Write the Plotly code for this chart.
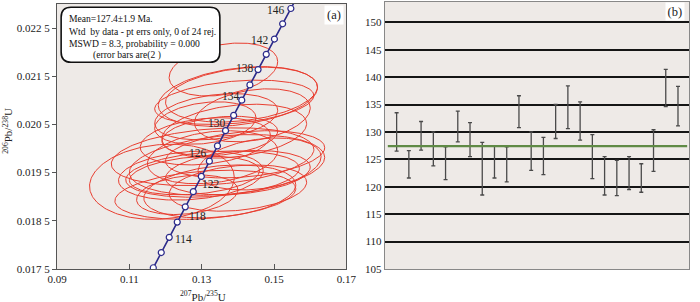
import numpy as np
import plotly.graph_objects as go

# ---------------- data ----------------
# (b) weighted-mean panel: 206Pb/238U ages (Ma) and 2-sigma errors
spot_no = list(range(1, 25))
age_ma = [130.0, 124.1, 129.3, 126.9, 124.3, 131.0, 128.6, 123.3, 124.5, 124.1, 133.7, 126.5,
          125.6, 131.9, 134.5, 132.0, 125.5, 122.0, 121.6, 122.5, 121.6, 126.6, 138.0, 134.7]
age_err = [3.5, 2.5, 2.6, 3.1, 3.0, 2.8, 3.1, 4.8, 2.9, 3.2, 2.9, 3.5,
           3.4, 3.1, 3.9, 3.5, 4.0, 3.5, 3.2, 3.0, 2.6, 3.8, 3.4, 3.6]
mean_age = 127.4

# (a) concordia panel: isotope ratios of the 24 spots (2-sigma) and error correlation
pb206_u238 = [0.02036, 0.01944, 0.02026, 0.01988, 0.01947, 0.02053, 0.02015, 0.01931,
              0.01950, 0.01944, 0.02096, 0.01982, 0.01968, 0.02066, 0.02108, 0.02069,
              0.01966, 0.01911, 0.01904, 0.01918, 0.01904, 0.01983, 0.02164, 0.02112]
err_206 = [0.00056, 0.00040, 0.00041, 0.00049, 0.00048, 0.00044, 0.00049, 0.00078,
           0.00046, 0.00051, 0.00046, 0.00055, 0.00054, 0.00048, 0.00062, 0.00055,
           0.00063, 0.00055, 0.00051, 0.00048, 0.00041, 0.00060, 0.00055, 0.00057]
pb207_u235 = [0.139, 0.128, 0.135, 0.142, 0.133, 0.131, 0.131, 0.119, 0.140, 0.127, 0.139, 0.133,
              0.146, 0.134, 0.140, 0.144, 0.137, 0.135, 0.131, 0.140, 0.126, 0.133, 0.136, 0.141]
err_207 = [0.020, 0.018, 0.016, 0.022, 0.024, 0.014, 0.018, 0.020, 0.020, 0.020, 0.022, 0.018,
           0.017, 0.017, 0.022, 0.016, 0.027, 0.021, 0.025, 0.019, 0.014, 0.028, 0.015, 0.021]
err_corr = [0.28, 0.25, 0.25, 0.28, 0.25, 0.25, 0.25, 0.12, 0.25, 0.2, 0.3, 0.25,
            0.28, 0.28, 0.3, 0.28, 0.25, 0.25, 0.25, 0.25, 0.25, 0.25, 0.3, 0.28]

# concordia curve (age ticks every 2 Ma)
conc_age = [112, 114, 116, 118, 120, 122, 124, 126, 128, 130, 132, 134, 136, 138, 140, 142, 144, 146, 148]
conc_207 = [0.116616, 0.118818, 0.121024, 0.123234, 0.125449, 0.127668, 0.129891, 0.132118,
            0.134351, 0.136588, 0.138828, 0.141074, 0.143324, 0.145578, 0.147836, 0.150100,
            0.152366, 0.154639, 0.156916]
conc_206 = [0.0175258, 0.0178416, 0.0181574, 0.0184733, 0.0187894, 0.0191055, 0.0194217,
            0.0197380, 0.0200544, 0.0203710, 0.0206876, 0.0210043, 0.0213211, 0.0216380,
            0.0219550, 0.0222722, 0.0225894, 0.0229067, 0.0232241]
label_ages = [114, 118, 122, 126, 130, 134, 138, 142, 146]

x_ticks_a = [0.09, 0.11, 0.13, 0.15, 0.17]
x_ticktext_a = ["0.09", "0.11", "0.13", "0.15", "0.17"]
y_ticks_a = [0.0175, 0.0185, 0.0195, 0.0205, 0.0215, 0.0225]
y_ticktext_a = ["0.017 5", "0.018 5", "0.019 5", "0.020 5", "0.021 5", "0.022 5"]
y_ticks_b = [105, 110, 115, 120, 125, 130, 135, 140, 145, 150]

info_lines = ["Mean=127.4\u00b11.9 Ma.",
              "Wtd  by data - pt errs only, 0 of 24 rej.",
              "MSWD = 8.3, probability = 0.000",
              "(error bars are(2 )"]

# ---------------- figure ----------------
SERIF = "Liberation Serif, Times New Roman, serif"
RED = "rgb(232,62,48)"
NAVY = "#2b2a8a"

W, H = 700, 302
ML, MR, MT, MB = 57, 1, 2, 33
PW, PH = W - ML - MR, H - MT - MB


def px_x(p):
    return (p - ML) / PW


def px_y(p):
    return (H - MB - p) / PH


fig = go.Figure()

# error ellipses
t = np.linspace(0, 2 * np.pi, 181)
for cx, sx, cy, sy, r in zip(pb207_u235, err_207, pb206_u238, err_206, err_corr):
    ex = cx + sx * np.cos(t)
    ey = cy + sy * (r * np.cos(t) + np.sqrt(1 - r * r) * np.sin(t))
    fig.add_trace(go.Scatter(x=ex, y=ey, mode="lines", line=dict(color=RED, width=1),
                             hoverinfo="skip", xaxis="x", yaxis="y"))

# concordia
fig.add_trace(go.Scatter(x=conc_207, y=conc_206, mode="lines+markers",
                         line=dict(color=NAVY, width=1.6),
                         marker=dict(symbol="circle", size=6, color="white",
                                     line=dict(color=NAVY, width=1.2)),
                         xaxis="x", yaxis="y"))

# weighted-mean bars
fig.add_trace(go.Scatter(x=spot_no, y=age_ma, mode="markers",
                         marker=dict(size=1, color="rgba(0,0,0,0)"),
                         error_y=dict(type="data", array=age_err, visible=True,
                                      color="#4a4a4a", thickness=1.3, width=2),
                         xaxis="x2", yaxis="y2"))
fig.add_trace(go.Scatter(x=[0.28, 24.75], y=[mean_age, mean_age], mode="lines",
                         line=dict(color="#5f8a45", width=2.2), xaxis="x2", yaxis="y2"))

axfont = dict(family=SERIF, size=11, color="#222")
fig.update_layout(
    width=W, height=H, margin=dict(l=ML, r=MR, t=MT, b=MB),
    paper_bgcolor="white", plot_bgcolor="#EEEAE7", showlegend=False,
    xaxis=dict(domain=[0, px_x(351)], range=[0.09, 0.17], tickvals=x_ticks_a, ticktext=x_ticktext_a,
               ticks="inside", ticklen=5, tickcolor="#555", tickwidth=1,
               showline=True, linecolor="#555", linewidth=1.3, mirror=True,
               showgrid=False, zeroline=False, tickfont=axfont, anchor="y"),
    yaxis=dict(domain=[0, px_y(4)], range=[0.0175, 0.0230], tickvals=y_ticks_a, ticktext=y_ticktext_a,
               ticks="outside", ticklen=4, tickcolor="#555", tickwidth=1,
               showline=True, linecolor="#555", linewidth=1.3, mirror=True,
               showgrid=False, zeroline=False, tickfont=axfont, anchor="x"),
    xaxis2=dict(domain=[px_x(390), 1], range=[0.035, 24.9], showticklabels=False, ticks="",
                showline=True, linecolor="#888", linewidth=1, mirror=True,
                showgrid=False, zeroline=False, anchor="y2"),
    yaxis2=dict(domain=[0, px_y(2)], range=[105, 153.7], tickvals=y_ticks_b, ticks="",
                showline=True, linecolor="#888", linewidth=1, mirror=True,
                showgrid=True, gridcolor="#151515", gridwidth=1.6, zeroline=False,
                tickfont=axfont, anchor="x2"),
)

# concordia age labels (placed relative to their marker)
label_shift = {114: (22, 14), 118: (20, 6), 122: (18, 8), 126: (-11, 8), 130: (-9, 8),
               134: (-11, 4), 138: (-13, 2), 142: (-14, -1), 146: (-15, -1)}
for a in label_ages:
    i = conc_age.index(a)
    dx, dy = label_shift[a]
    fig.add_annotation(x=conc_207[i], y=conc_206[i], xref="x", yref="y", text=str(a),
                       showarrow=False, xshift=dx, yshift=dy,
                       font=dict(family=SERIF, size=11.5, color="#222"))

# info box (rounded rectangle)
x0, x1 = 0.09 + (61.7 - 57.5) / 3670, 0.09 + (222.7 - 57.5) / 3670
y0, y1 = 0.0230 - (7.3 - 4) / 48200, 0.0230 - (62.3 - 4) / 48200
rx, ry = 10 / 3670, 10 / 48200
path = (f"M {x0+rx},{y0} L {x1-rx},{y0} Q {x1},{y0} {x1},{y0-ry} L {x1},{y1+ry} "
        f"Q {x1},{y1} {x1-rx},{y1} L {x0+rx},{y1} Q {x0},{y1} {x0},{y1+ry} "
        f"L {x0},{y0-ry} Q {x0},{y0} {x0+rx},{y0} Z")
fig.add_shape(type="path", path=path, xref="x", yref="y",
              line=dict(color="#111", width=1.6), fillcolor="white", layer="above")
line_pos = [(67, 18.5), (67, 31), (67, 43), (92, 54.5)]
for txt, (lx, ly) in zip(info_lines, line_pos):
    fig.add_annotation(x=px_x(lx), y=px_y(ly), xref="paper", yref="paper", text=txt,
                       showarrow=False, xanchor="left", yanchor="middle",
                       font=dict(family=SERIF, size=9.6, color="#111"))

# panel tags
fig.add_annotation(x=1, y=1, xref="x domain", yref="y domain", text="(a)", showarrow=False,
                   xanchor="right", yanchor="top", xshift=-2, yshift=-1, bgcolor="white",
                   borderpad=2, font=dict(family=SERIF, size=12.5, color="#222"))
fig.add_annotation(x=1, y=1, xref="x2 domain", yref="y2 domain", text="(b)", showarrow=False,
                   xanchor="right", yanchor="top", xshift=-4, yshift=0, bgcolor="white",
                   borderpad=1.5, font=dict(family=SERIF, size=12.5, color="#222"))

# axis titles
fig.add_annotation(x=px_x(205), y=px_y(287), xref="paper", yref="paper",
                   text="<sup>207</sup>Pb/<sup>235</sup>U", showarrow=False,
                   xanchor="center", yanchor="top",
                   font=dict(family=SERIF, size=11, color="#222"))
fig.add_annotation(x=px_x(7), y=px_y(131), xref="paper", yref="paper",
                   text="<sup>206</sup>Pb/<sup>238</sup>U", showarrow=False, textangle=-90,
                   xanchor="center", yanchor="middle",
                   font=dict(family=SERIF, size=11, color="#222"))

page_fix = ("var s=document.documentElement.style;s.margin='0';s.padding='0';s.overflow='hidden';"
            "var b=document.body.style;b.margin='0';b.padding='0';b.overflow='hidden';")
fig.write_html("out.html", config={"displayModeBar": False}, post_script=page_fix)
